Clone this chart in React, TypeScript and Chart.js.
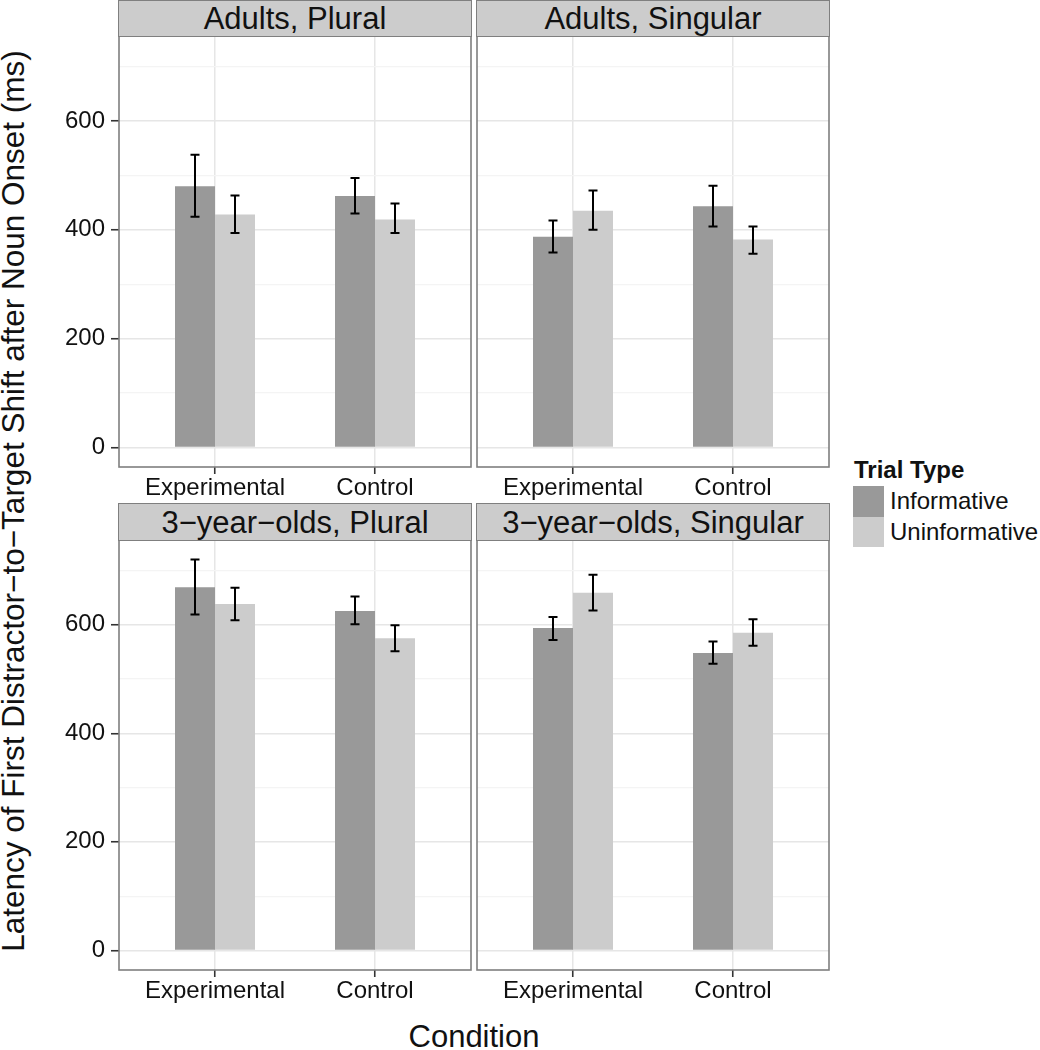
import React, { useEffect, useRef } from 'react';
import { Chart, registerables } from 'chart.js';

Chart.register(...registerables);

const FONT = "'Liberation Sans', Arial, Helvetica, sans-serif";

// ---------- data ----------
const categories = ['Experimental', 'Control'];
const trialTypes = ['Informative', 'Uninformative'];
const panelTitles = ['Adults, Plural', 'Adults, Singular', '3\u2212year\u2212olds, Plural', '3\u2212year\u2212olds, Singular'];
const yTickValues = [0, 100, 200, 300, 400, 500, 600, 700];
const yMajorStep = 200;
const yLimits = [-36, 756];
const xLabel = 'Condition';
const yLabel = 'Latency of First Distractor\u2212to\u2212Target Shift after Noun Onset (ms)';
const legendTitle = 'Trial Type';

// Adults, Plural
const adultsPluralInformative = [480, 462];
const adultsPluralInformativeLow = [424, 430];
const adultsPluralInformativeHigh = [538, 495];
const adultsPluralUninformative = [428, 419];
const adultsPluralUninformativeLow = [394, 394];
const adultsPluralUninformativeHigh = [463, 448];

// Adults, Singular
const adultsSingularInformative = [387, 443];
const adultsSingularInformativeLow = [358, 406];
const adultsSingularInformativeHigh = [417, 481];
const adultsSingularUninformative = [435, 382];
const adultsSingularUninformativeLow = [400, 356];
const adultsSingularUninformativeHigh = [472, 406];

// 3-year-olds, Plural
const kidsPluralInformative = [669, 625];
const kidsPluralInformativeLow = [619, 601];
const kidsPluralInformativeHigh = [720, 652];
const kidsPluralUninformative = [638, 575];
const kidsPluralUninformativeLow = [608, 551];
const kidsPluralUninformativeHigh = [668, 599];

// 3-year-olds, Singular
const kidsSingularInformative = [594, 548];
const kidsSingularInformativeLow = [572, 528];
const kidsSingularInformativeHigh = [614, 569];
const kidsSingularUninformative = [659, 585];
const kidsSingularUninformativeLow = [626, 561];
const kidsSingularUninformativeHigh = [692, 610];

const panelSeries = [
  [
    [adultsPluralInformative, adultsPluralInformativeLow, adultsPluralInformativeHigh],
    [adultsPluralUninformative, adultsPluralUninformativeLow, adultsPluralUninformativeHigh],
  ],
  [
    [adultsSingularInformative, adultsSingularInformativeLow, adultsSingularInformativeHigh],
    [adultsSingularUninformative, adultsSingularUninformativeLow, adultsSingularUninformativeHigh],
  ],
  [
    [kidsPluralInformative, kidsPluralInformativeLow, kidsPluralInformativeHigh],
    [kidsPluralUninformative, kidsPluralUninformativeLow, kidsPluralUninformativeHigh],
  ],
  [
    [kidsSingularInformative, kidsSingularInformativeLow, kidsSingularInformativeHigh],
    [kidsSingularUninformative, kidsSingularUninformativeLow, kidsSingularUninformativeHigh],
  ],
];

// ---------- styling / layout ----------
const barColors = ['#999999', '#CCCCCC'];
const MAJOR_GRID = '#E6E6E6';
const MINOR_GRID = '#F4F4F4';
const BORDER = '#7F7F7F';
const TICK = '#333333';

const PANEL_X = [119, 477];
const PANEL_W = 352;
const PANEL_Y = [36, 540];
const PANEL_H = [431, 430];
const MB = 40;

const errorBarPlugin = {
  id: 'errorBars',
  afterDatasetsDraw(chart: any) {
    const ctx = chart.ctx;
    const y = chart.scales.y;
    chart.data.datasets.forEach((ds: any, di: number) => {
      const meta = chart.getDatasetMeta(di);
      meta.data.forEach((bar: any, i: number) => {
        const x = bar.x;
        const lo = y.getPixelForValue(ds.errLow[i]);
        const hi = y.getPixelForValue(ds.errHigh[i]);
        ctx.save();
        ctx.strokeStyle = '#000000';
        ctx.lineWidth = 2;
        ctx.beginPath();
        ctx.moveTo(x, lo);
        ctx.lineTo(x, hi);
        ctx.moveTo(x - 4.5, lo);
        ctx.lineTo(x + 4.5, lo);
        ctx.moveTo(x - 4.5, hi);
        ctx.lineTo(x + 4.5, hi);
        ctx.stroke();
        ctx.restore();
      });
    });
  },
};

const panelBorderPlugin = {
  id: 'panelBorder',
  afterDraw(chart: any) {
    const { left, top, right, bottom } = chart.chartArea;
    const ctx = chart.ctx;
    ctx.save();
    ctx.strokeStyle = BORDER;
    ctx.lineWidth = 1.6;
    ctx.strokeRect(left, top, right - left, bottom - top);
    ctx.restore();
  },
};

function Panel({ index }: { index: number }) {
  const ref = useRef<HTMLCanvasElement>(null);
  const col = index % 2;
  const row = Math.floor(index / 2);
  const showY = col === 0;
  const ML = showY ? 79 : 0;
  const padLeft = showY ? 0 : 2;
  const left = PANEL_X[col] - ML - padLeft;
  const top = PANEL_Y[row] - 2;
  const width = ML + padLeft + PANEL_W + 2;
  const height = 2 + PANEL_H[row] + MB;

  useEffect(() => {
    const series = panelSeries[index];
    const chart = new Chart(ref.current as HTMLCanvasElement, {
      type: 'bar',
      data: {
        datasets: series.map((s, si) => ({
          label: trialTypes[si],
          data: categories.map((_, ci) => ({ x: ci + 1, y: s[0][ci] })),
          errLow: s[1],
          errHigh: s[2],
          backgroundColor: barColors[si],
          borderWidth: 0,
          categoryPercentage: 0.5,
          barPercentage: 1,
        })) as any,
      },
      options: {
        animation: false,
        responsive: false,
        maintainAspectRatio: false,
        devicePixelRatio: 1,
        layout: { padding: { top: 2, right: 2, left: padLeft, bottom: 0 } },
        plugins: {
          legend: { display: false },
          tooltip: { enabled: false },
          title: { display: false },
        },
        scales: {
          x: {
            type: 'linear',
            min: 0.4,
            max: 2.6,
            offset: false,
            afterBuildTicks: (s: any) => {
              s.ticks = categories.map((_, i) => ({ value: i + 1 }));
            },
            afterFit: (s: any) => {
              s.height = MB;
              s.paddingLeft = 0;
              s.paddingRight = 0;
            },
            ticks: {
              callback: (v: any) => categories[Math.round(Number(v)) - 1] ?? '',
              font: { family: FONT, size: 24, lineHeight: 1.2 },
              color: '#111111',
              padding: 0,
              autoSkip: false,
              maxRotation: 0,
              minRotation: 0,
            },
            grid: {
              offset: false,
              color: MAJOR_GRID,
              lineWidth: 1.5,
              drawTicks: true,
              tickLength: 7,
              tickColor: TICK,
              tickWidth: 1.6,
            },
            border: { display: false },
          },
          y: {
            type: 'linear',
            min: yLimits[0],
            max: yLimits[1],
            afterBuildTicks: (s: any) => {
              s.ticks = yTickValues.map((v) => ({ value: v }));
            },
            afterFit: (s: any) => {
              s.width = ML;
              s.paddingTop = 0;
              s.paddingBottom = 0;
            },
            ticks: {
              display: showY,
              callback: (v: any) => (Number(v) % yMajorStep === 0 ? String(v) : ''),
              font: { family: FONT, size: 24, lineHeight: 1.2 },
              color: '#111111',
              padding: 6,
              autoSkip: false,
            },
            grid: {
              offset: false,
              color: (c: any) => (c.tick && c.tick.value % yMajorStep === 0 ? MAJOR_GRID : MINOR_GRID),
              lineWidth: (c: any) => (c.tick && c.tick.value % yMajorStep === 0 ? 1.5 : 1.2),
              drawTicks: showY,
              tickLength: 8,
              tickColor: (c: any) => (c.tick && c.tick.value % yMajorStep === 0 ? TICK : 'rgba(0,0,0,0)'),
              tickWidth: 1.6,
            },
            border: { display: false },
          },
        },
      } as any,
      plugins: [errorBarPlugin, panelBorderPlugin],
    });
    return () => chart.destroy();
  }, [index]);

  return (
    <canvas
      ref={ref}
      width={width}
      height={height}
      style={{ position: 'absolute', left, top, width, height }}
    />
  );
}

function Strip({ index }: { index: number }) {
  const col = index % 2;
  const row = Math.floor(index / 2);
  const stripTop = row === 0 ? 0 : 503;
  const stripBottom = PANEL_Y[row] + 1;
  return (
    <div
      style={{
        position: 'absolute',
        left: PANEL_X[col] - 1,
        top: stripTop,
        width: PANEL_W + 2,
        height: stripBottom - stripTop,
        boxSizing: 'border-box',
        background: '#CCCCCC',
        border: `1.6px solid ${BORDER}`,
        display: 'flex',
        alignItems: 'center',
        justifyContent: 'center',
        fontFamily: FONT,
        fontSize: 31,
        color: '#111111',
        whiteSpace: 'nowrap',
        lineHeight: 1,
      }}
    >
      {panelTitles[index]}
    </div>
  );
}

export default function App() {
  return (
    <div
      style={{
        position: 'absolute',
        left: 0,
        top: 0,
        width: 1040,
        height: 1050,
        background: '#FFFFFF',
        overflow: 'hidden',
        fontFamily: FONT,
      }}
    >
      {[0, 1, 2, 3].map((i) => (
        <Panel key={`p${i}`} index={i} />
      ))}
      {[0, 1, 2, 3].map((i) => (
        <Strip key={`s${i}`} index={i} />
      ))}
      <div
        style={{
          position: 'absolute',
          left: 14,
          top: 501,
          transform: 'translate(-50%, -50%) rotate(-90deg)',
          whiteSpace: 'nowrap',
          fontSize: 31.5,
          lineHeight: 1,
          color: '#111111',
        }}
      >
        {yLabel}
      </div>
      <div
        style={{
          position: 'absolute',
          left: 474,
          top: 1036,
          transform: 'translate(-50%, -50%)',
          whiteSpace: 'nowrap',
          fontSize: 31,
          lineHeight: 1,
          color: '#111111',
        }}
      >
        {xLabel}
      </div>
      <div
        style={{
          position: 'absolute',
          left: 854,
          top: 458,
          fontSize: 24,
          fontWeight: 'bold',
          lineHeight: '24px',
          whiteSpace: 'nowrap',
          color: '#111111',
        }}
      >
        {legendTitle}
      </div>
      {trialTypes.map((t, i) => (
        <React.Fragment key={t}>
          <div
            style={{
              position: 'absolute',
              left: 853,
              top: 486 + i * 30.5,
              width: 31,
              height: 30.5,
              background: barColors[i],
            }}
          />
          <div
            style={{
              position: 'absolute',
              left: 890,
              top: 486 + i * 30.5,
              height: 30.5,
              display: 'flex',
              alignItems: 'center',
              fontSize: 24,
              lineHeight: 1,
              whiteSpace: 'nowrap',
              color: '#111111',
            }}
          >
            {t}
          </div>
        </React.Fragment>
      ))}
    </div>
  );
}
